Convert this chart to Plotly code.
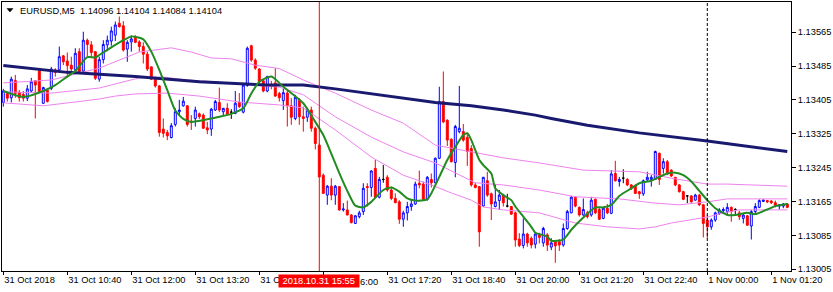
import plotly.graph_objects as go

bar_index = list(range(197))

open_p = [
    1.13399,1.13420,1.13410,1.13451,1.13423,1.13418,1.13409,1.13426,1.13450,1.13473,
    1.13397,1.13428,1.13432,1.13476,1.13476,1.13509,1.13497,1.13487,1.13476,1.13519,
    1.13473,1.13546,1.13535,1.13519,1.13454,1.13500,1.13535,1.13544,1.13558,1.13586,
    1.13580,1.13525,1.13542,1.13554,1.13542,1.13531,1.13513,1.13483,1.13454,1.13438,
    1.13336,1.13328,1.13316,1.13347,1.13377,1.13391,1.13391,1.13355,1.13361,1.13372,
    1.13369,1.13339,1.13336,1.13381,1.13399,1.13377,1.13385,1.13376,1.13373,1.13399,
    1.13376,1.13439,1.13533,1.13499,1.13478,1.13450,1.13426,1.13441,1.13445,1.13420,
    1.13403,1.13421,1.13391,1.13361,1.13406,1.13365,1.13364,1.13381,1.13338,1.13298,
    1.13227,1.13180,1.13201,1.13180,1.13200,1.13145,1.13145,1.13133,1.13113,1.13129,
    1.13141,1.13200,1.13198,1.13243,1.13175,1.13217,1.13222,1.13192,1.13172,1.13164,
    1.13123,1.13138,1.13153,1.13159,1.13208,1.13206,1.13170,1.13217,1.13209,1.13267,
    1.13401,1.13357,1.13312,1.13257,1.13330,1.13330,1.13316,1.13290,1.13204,1.13200,
    1.13154,1.13214,1.13183,1.13153,1.13167,1.13180,1.13154,1.13153,1.13138,1.13076,
    1.13061,1.13088,1.13078,1.13064,1.13088,1.13067,1.13086,1.13057,1.13070,1.13070,
    1.13062,1.13101,1.13138,1.13175,1.13151,1.13133,1.13138,1.13133,1.13170,1.13146,
    1.13125,1.13149,1.13137,1.13231,1.13212,1.13220,1.13217,1.13204,1.13201,1.13188,
    1.13183,1.13216,1.13217,1.13217,1.13279,1.13243,1.13259,1.13239,1.13222,1.13204,
    1.13188,1.13178,1.13178,1.13168,1.13180,1.13157,1.13121,1.13105,1.13121,1.13137,
    1.13143,1.13141,1.13151,1.13146,1.13138,1.13125,1.13131,1.13107,1.13141,1.13151,
    1.13165,1.13167,1.13166,1.13162,1.13154,1.13154,1.13159]

high_p = [
    1.13431,1.13424,1.13460,1.13464,1.13428,1.13426,1.13440,1.13457,1.13451,1.13476,
    1.13436,1.13431,1.13483,1.13480,1.13531,1.13511,1.13517,1.13507,1.13527,1.13527,
    1.13566,1.13550,1.13544,1.13519,1.13507,1.13546,1.13557,1.13578,1.13590,1.13602,
    1.13591,1.13546,1.13557,1.13558,1.13546,1.13541,1.13519,1.13483,1.13460,1.13440,
    1.13361,1.13334,1.13350,1.13385,1.13405,1.13412,1.13393,1.13369,1.13389,1.13375,
    1.13373,1.13353,1.13386,1.13405,1.13434,1.13386,1.13397,1.13383,1.13426,1.13421,
    1.13444,1.13531,1.13535,1.13503,1.13480,1.13452,1.13462,1.13450,1.13480,1.13424,
    1.13432,1.13428,1.13409,1.13417,1.13409,1.13389,1.13385,1.13389,1.13342,1.13302,
    1.13231,1.13204,1.13220,1.13204,1.13201,1.13161,1.13167,1.13135,1.13133,1.13143,
    1.13208,1.13208,1.13239,1.13263,1.13223,1.13251,1.13227,1.13200,1.13184,1.13168,
    1.13143,1.13164,1.13170,1.13212,1.13238,1.13212,1.13225,1.13231,1.13269,1.13436,
    1.13472,1.13359,1.13314,1.13346,1.13438,1.13348,1.13324,1.13298,1.13209,1.13201,
    1.13223,1.13235,1.13186,1.13206,1.13192,1.13183,1.13183,1.13154,1.13141,1.13090,
    1.13125,1.13091,1.13082,1.13093,1.13091,1.13105,1.13090,1.13078,1.13074,1.13076,
    1.13113,1.13145,1.13178,1.13176,1.13153,1.13172,1.13143,1.13176,1.13172,1.13151,
    1.13151,1.13159,1.13239,1.13261,1.13223,1.13241,1.13220,1.13206,1.13204,1.13190,
    1.13217,1.13235,1.13227,1.13285,1.13280,1.13267,1.13263,1.13241,1.13223,1.13206,
    1.13190,1.13180,1.13180,1.13183,1.13183,1.13159,1.13133,1.13125,1.13141,1.13149,
    1.13151,1.13161,1.13153,1.13149,1.13143,1.13135,1.13133,1.13145,1.13161,1.13170,
    1.13170,1.13168,1.13168,1.13167,1.13159,1.13161,1.13161]

low_p = [
    1.13389,1.13401,1.13399,1.13410,1.13401,1.13401,1.13402,1.13423,1.13361,1.13421,
    1.13395,1.13399,1.13428,1.13460,1.13473,1.13487,1.13460,1.13468,1.13472,1.13468,
    1.13470,1.13507,1.13507,1.13452,1.13448,1.13491,1.13520,1.13533,1.13544,1.13576,
    1.13519,1.13495,1.13519,1.13539,1.13519,1.13491,1.13473,1.13452,1.13434,1.13318,
    1.13316,1.13310,1.13314,1.13342,1.13369,1.13389,1.13342,1.13334,1.13342,1.13360,
    1.13336,1.13324,1.13320,1.13379,1.13376,1.13369,1.13369,1.13360,1.13371,1.13386,
    1.13373,1.13436,1.13495,1.13476,1.13444,1.13423,1.13423,1.13430,1.13412,1.13401,
    1.13381,1.13342,1.13346,1.13357,1.13346,1.13330,1.13353,1.13330,1.13288,1.13222,
    1.13183,1.13157,1.13168,1.13157,1.13143,1.13141,1.13132,1.13113,1.13112,1.13125,
    1.13133,1.13153,1.13176,1.13173,1.13172,1.13209,1.13188,1.13168,1.13161,1.13112,
    1.13105,1.13120,1.13143,1.13157,1.13196,1.13168,1.13167,1.13198,1.13208,1.13265,
    1.13350,1.13296,1.13257,1.13222,1.13326,1.13306,1.13249,1.13200,1.13196,1.13058,
    1.13153,1.13176,1.13121,1.13151,1.13145,1.13153,1.13151,1.13133,1.13058,1.13057,
    1.13054,1.13058,1.13054,1.13054,1.13066,1.13058,1.13048,1.13050,1.13020,1.13048,
    1.13058,1.13098,1.13137,1.13151,1.13129,1.13131,1.13125,1.13129,1.13135,1.13121,
    1.13123,1.13135,1.13135,1.13212,1.13200,1.13208,1.13201,1.13192,1.13183,1.13171,
    1.13178,1.13212,1.13200,1.13216,1.13204,1.13231,1.13227,1.13223,1.13201,1.13186,
    1.13168,1.13161,1.13162,1.13167,1.13154,1.13080,1.13078,1.13098,1.13117,1.13133,
    1.13138,1.13135,1.13117,1.13133,1.13121,1.13113,1.13107,1.13075,1.13133,1.13149,
    1.13164,1.13161,1.13159,1.13151,1.13146,1.13149,1.13149]

close_p = [
    1.13426,1.13409,1.13454,1.13420,1.13410,1.13409,1.13431,1.13448,1.13440,1.13423,
    1.13434,1.13401,1.13478,1.13470,1.13507,1.13495,1.13486,1.13478,1.13515,1.13472,
    1.13546,1.13536,1.13517,1.13456,1.13500,1.13536,1.13546,1.13568,1.13582,1.13578,
    1.13523,1.13541,1.13549,1.13541,1.13531,1.13513,1.13478,1.13454,1.13438,1.13328,
    1.13326,1.13320,1.13344,1.13377,1.13381,1.13402,1.13347,1.13352,1.13381,1.13365,
    1.13338,1.13334,1.13383,1.13401,1.13381,1.13385,1.13371,1.13376,1.13397,1.13389,
    1.13440,1.13527,1.13499,1.13480,1.13448,1.13426,1.13460,1.13437,1.13414,1.13410,
    1.13422,1.13391,1.13364,1.13411,1.13365,1.13361,1.13381,1.13338,1.13302,1.13223,
    1.13184,1.13201,1.13180,1.13201,1.13145,1.13147,1.13133,1.13115,1.13131,1.13138,
    1.13196,1.13198,1.13237,1.13175,1.13217,1.13217,1.13192,1.13172,1.13162,1.13123,
    1.13138,1.13153,1.13159,1.13206,1.13204,1.13170,1.13222,1.13209,1.13267,1.13401,
    1.13353,1.13310,1.13259,1.13342,1.13338,1.13310,1.13283,1.13204,1.13198,1.13093,
    1.13222,1.13180,1.13159,1.13164,1.13180,1.13162,1.13154,1.13135,1.13074,1.13061,
    1.13088,1.13067,1.13062,1.13088,1.13080,1.13101,1.13062,1.13067,1.13060,1.13062,
    1.13101,1.13141,1.13175,1.13154,1.13133,1.13146,1.13129,1.13168,1.13138,1.13123,
    1.13149,1.13138,1.13230,1.13214,1.13217,1.13220,1.13204,1.13196,1.13184,1.13183,
    1.13214,1.13222,1.13222,1.13283,1.13217,1.13259,1.13230,1.13225,1.13204,1.13188,
    1.13170,1.13178,1.13164,1.13180,1.13157,1.13113,1.13105,1.13121,1.13138,1.13145,
    1.13146,1.13151,1.13141,1.13146,1.13129,1.13133,1.13109,1.13141,1.13153,1.13167,
    1.13168,1.13164,1.13162,1.13156,1.13157,1.13159,1.13151]

# slow moving average (navy)
navy_idx = [0, 16, 33, 49, 66, 75, 83, 92, 100, 108, 117, 125, 133, 137, 146, 159, 176, 196]
navy_val = [1.13486, 1.13470, 1.13460, 1.13448, 1.13440, 1.13440, 1.13431, 1.13419, 1.13409,
            1.13399, 1.13391, 1.13381, 1.13369, 1.13361, 1.13345, 1.13327, 1.13308, 1.13283]

# fast moving average (green)
green_idx = [0, 5, 10, 13, 16, 18, 21, 23, 24, 27, 30, 32, 35, 37, 39, 41, 43, 45, 47, 51,
             54, 57, 60, 62, 64, 67, 70, 75, 78, 80, 82, 84, 86, 88, 90, 92, 95, 97, 99, 101,
             103, 106, 107, 109, 111, 113, 115, 116, 117, 119, 120, 122, 123, 125, 127, 128,
             130, 132, 133, 136, 137, 140, 142, 145, 148, 150, 152, 154, 157, 159, 162, 164,
             166, 168, 170, 172, 174, 176, 178, 181, 183, 186, 188, 191, 193, 196]
green_val = [1.13426, 1.13412, 1.13426, 1.13440, 1.13460, 1.13473, 1.13506, 1.13505, 1.13511,
             1.13529, 1.13546, 1.13555, 1.13548, 1.13519, 1.13476, 1.13428, 1.13380, 1.13360,
             1.13353, 1.13359, 1.13365, 1.13372, 1.13385, 1.13420, 1.13448, 1.13460, 1.13436,
             1.13397, 1.13353, 1.13322, 1.13278, 1.13232, 1.13190, 1.13155, 1.13151, 1.13164,
             1.13192, 1.13198, 1.13188, 1.13172, 1.13167, 1.13170, 1.13184, 1.13223, 1.13263,
             1.13294, 1.13322, 1.13326, 1.13310, 1.13263, 1.13251, 1.13231, 1.13196, 1.13180,
             1.13168, 1.13153, 1.13129, 1.13105, 1.13091, 1.13082, 1.13072, 1.13075, 1.13098,
             1.13127, 1.13151, 1.13151, 1.13157, 1.13178, 1.13196, 1.13208, 1.13214, 1.13223,
             1.13231, 1.13233, 1.13227, 1.13212, 1.13190, 1.13168, 1.13149, 1.13133, 1.13133,
             1.13138, 1.13135, 1.13146, 1.13154, 1.13159]

# band lines (violet)
upper_idx = [0, 12, 24, 34, 42, 47, 52, 57, 63, 69, 75, 83, 92, 100, 108, 117, 125, 134,
             145, 159, 167, 176, 181, 196]
upper_val = [1.13445, 1.13452, 1.13480, 1.13518, 1.13528, 1.13518, 1.13504, 1.13502, 1.13487,
             1.13479, 1.13452, 1.13421, 1.13381, 1.13350, 1.13298, 1.13282, 1.13268, 1.13256,
             1.13239, 1.13235, 1.13220, 1.13206, 1.13206, 1.13201]
mid_idx = [0, 12, 24, 34, 40, 46, 57, 69, 75, 83, 92, 100, 108, 118, 125, 134, 143, 154,
           163, 169, 176, 181, 196]
mid_val = [1.13424, 1.13421, 1.13433, 1.13457, 1.13459, 1.13452, 1.13445, 1.13435, 1.13417,
           1.13365, 1.13317, 1.13282, 1.13256, 1.13209, 1.13204, 1.13192, 1.13176, 1.13171,
           1.13161, 1.13157, 1.13164, 1.13171, 1.13171]
lower_idx = [0, 10, 18, 24, 28, 33, 41, 49, 59, 69, 75, 83, 92, 100, 107, 112, 117, 120,
             125, 134, 143, 151, 159, 163, 167, 172, 176, 180, 184, 196]
lower_val = [1.13398, 1.13391, 1.13400, 1.13407, 1.13414, 1.13419, 1.13421, 1.13414, 1.13400,
             1.13393, 1.13386, 1.13334, 1.13270, 1.13227, 1.13204, 1.13185, 1.13168, 1.13152,
             1.13145, 1.13138, 1.13114, 1.13105, 1.13100, 1.13105, 1.13114, 1.13121, 1.13128,
             1.13138, 1.13145, 1.13145]

# time axis labels (the 14:40 and 16:00 labels are partly covered by the crosshair label)
x_tick_idx = [0, 16, 32, 48, 64, 80, 96, 112, 128, 144, 160, 176, 192]
x_tick_text = ["31 Oct 2018", "31 Oct 10:40", "31 Oct 12:00", "31 Oct 13:20", "31 O",
               "", "31 Oct 17:20", "31 Oct 18:40", "31 Oct 20:00", "31 Oct 21:20",
               "31 Oct 22:40", "1 Nov 00:00", "1 Nov 01:20"]
covered_tail = "6:00"
y_tick_vals = [1.13005, 1.13085, 1.13165, 1.13245, 1.13325, 1.13405, 1.13485, 1.13565]
y_tick_text = ["1.13005", "1.13085", "1.13165", "1.13245", "1.13325", "1.13405", "1.13485", "1.13565"]

crosshair_idx = 79
crosshair_label = "\u00a02018.10.31 15:55\u00a0"
day_sep_idx = 176
header = "EURUSD,M5 \u00a01.14096 1.14104 1.14084 1.14104"

FONT = "Liberation Sans"
FS = 9.3

norm = [i for i in bar_index if open_p[i] != close_p[i]]
doji = [i for i in bar_index if open_p[i] == close_p[i]]

fig = go.Figure()
fig.add_trace(go.Candlestick(
    x=norm,
    open=[open_p[i] for i in norm], high=[high_p[i] for i in norm],
    low=[low_p[i] for i in norm], close=[close_p[i] for i in norm],
    increasing=dict(line=dict(color="#0000ff", width=1), fillcolor="#ffffff"),
    decreasing=dict(line=dict(color="#ff0000", width=1), fillcolor="#ff0000"),
    whiskerwidth=0, showlegend=False, hoverinfo="skip"))
fig.add_trace(go.Candlestick(
    x=doji,
    open=[open_p[i] for i in doji], high=[high_p[i] for i in doji],
    low=[low_p[i] for i in doji], close=[close_p[i] for i in doji],
    increasing=dict(line=dict(color="#000000", width=1), fillcolor="#000000"),
    decreasing=dict(line=dict(color="#000000", width=1), fillcolor="#000000"),
    whiskerwidth=0, showlegend=False, hoverinfo="skip"))

for xs, ys in [(upper_idx, upper_val), (mid_idx, mid_val), (lower_idx, lower_val)]:
    fig.add_trace(go.Scatter(x=xs, y=ys, mode="lines", line=dict(color="#ee82ee", width=1),
                             showlegend=False, hoverinfo="skip"))
fig.add_trace(go.Scatter(x=navy_idx, y=navy_val, mode="lines",
                         line=dict(color="#191970", width=3),
                         showlegend=False, hoverinfo="skip"))
fig.add_trace(go.Scatter(x=green_idx, y=green_val, mode="lines",
                         line=dict(color="#228b22", width=2, shape="spline", smoothing=0.6),
                         showlegend=False, hoverinfo="skip"))

fig.add_shape(type="line", x0=crosshair_idx, x1=crosshair_idx, y0=0, y1=1, xref="x", yref="paper",
              line=dict(color="#ff0000", width=1))
fig.add_shape(type="line", x0=day_sep_idx, x1=day_sep_idx, y0=0, y1=1, xref="x", yref="paper",
              line=dict(color="#000000", width=1, dash="3px,2px"))

# small triangle before header
fig.add_shape(type="path", xref="paper", yref="paper",
              path="M 0.0063 0.9758 L 0.0139 0.9758 L 0.0101 0.9628 Z",
              fillcolor="#000000", line=dict(color="#000000", width=0.5))

fig.add_annotation(text=header, xref="paper", yref="paper", x=0.0203, y=0.9665,
                   xanchor="left", yanchor="middle", showarrow=False,
                   font=dict(family=FONT, size=FS, color="#000000"))
fig.add_annotation(text=crosshair_label, xref="x", yref="paper", x=crosshair_idx, y=0,
                   xanchor="center", yanchor="top", yshift=-3, showarrow=False,
                   bgcolor="#ff0000", borderpad=1,
                   font=dict(family=FONT, size=FS, color="#ffffff"))
fig.add_annotation(text=covered_tail, xref="paper", yref="paper", x=0.4515, y=0,
                   xanchor="left", yanchor="top", yshift=-3.5, showarrow=False, borderpad=1,
                   font=dict(family=FONT, size=FS, color="#000000"))

fig.update_layout(
    width=833, height=292,
    margin=dict(l=2, r=42, t=2, b=21),
    paper_bgcolor="#ffffff", plot_bgcolor="#ffffff",
    boxgap=0.3,
    font=dict(family=FONT, size=FS, color="#000000"),
    xaxis=dict(range=[-0.325, 196.925], rangeslider=dict(visible=False),
               tickmode="array", tickvals=x_tick_idx, ticktext=x_tick_text,
               ticks="outside", ticklen=3, tickcolor="#000000",
               ticklabelposition="outside right",
               showline=True, linecolor="#000000", linewidth=1, mirror=True,
               showgrid=False, zeroline=False,
               tickfont=dict(family=FONT, size=FS, color="#000000")),
    yaxis=dict(range=[1.130006, 1.136363], side="right",
               tickmode="array", tickvals=y_tick_vals, ticktext=y_tick_text,
               ticks="outside", ticklen=4, tickcolor="#000000",
               showline=True, linecolor="#000000", linewidth=1, mirror=True,
               showgrid=False, zeroline=False,
               tickfont=dict(family=FONT, size=FS, color="#000000")),
)

fig.write_html("out.html")
